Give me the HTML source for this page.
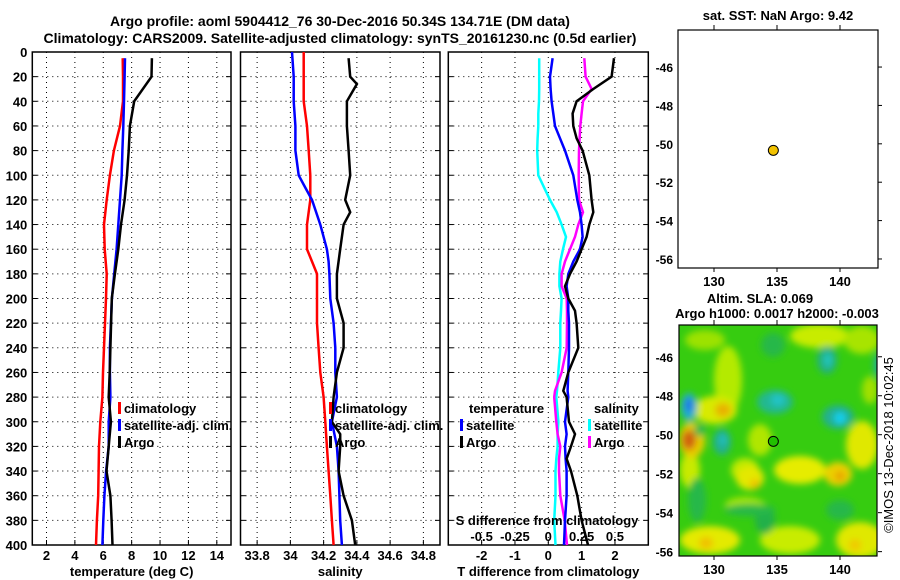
<!DOCTYPE html>
<html><head><meta charset="utf-8">
<style>
html,body{margin:0;padding:0;background:#fff;}
svg{display:block;font-family:"Liberation Sans",sans-serif;font-weight:bold;}
</style></head>
<body>
<svg id="chart" width="900" height="580" viewBox="0 0 900 580" xmlns="http://www.w3.org/2000/svg">
<defs>
<filter id="blur" x="-50%" y="-50%" width="200%" height="200%"><feGaussianBlur stdDeviation="3.5"/></filter>
<clipPath id="mapclip"><rect x="679" y="325" width="198" height="231"/></clipPath>
</defs>
<text x="340" y="26" font-size="14" text-anchor="middle">Argo profile: aoml 5904412_76 30-Dec-2016 50.34S 134.71E (DM data)</text>
<text x="340" y="43" font-size="14" text-anchor="middle">Climatology: CARS2009. Satellite-adjusted climatology: synTS_20161230.nc (0.5d earlier)</text>
<g id="layer"></g>
</svg>
<script>
// ---------- data ----------
const depthTicks = [0,20,40,60,80,100,120,140,160,180,200,220,240,260,280,300,320,340,360,380,400];
const tempTicks = [2,4,6,8,10,12,14];
const salTicks = [33.8,34,34.2,34.4,34.6,34.8];
const salTickLabels = ["33.8","34","34.2","34.4","34.6","34.8"];
const tdiffTicks = [-2,-1,0,1,2];
const sdiffTicks = [-0.5,-0.25,0,0.25,0.5];
const sdiffTickLabels = ["-0.5","-0.25","0","0.25","0.5"];

const depthStd = [5,20,40,60,80,100,120,140,160,180,200,220,240,260,280,300,320,340,360,380,400];
const tempArgo = [9.43,9.4,8.18,7.88,7.79,7.67,7.5,7.25,7.06,6.82,6.6,6.55,6.5,6.45,6.38,6.54,6.38,6.23,6.5,6.59,6.65];
const tempSat  = [7.53,7.5,7.46,7.41,7.35,7.3,7.18,7.06,6.94,6.77,6.61,6.54,6.47,6.47,6.5,6.38,6.38,6.2,6.08,6.0,5.94];
const tempClim = [7.37,7.39,7.39,7.18,6.75,6.47,6.24,6.05,6.1,6.24,6.19,6.12,6.05,5.98,5.94,5.79,5.7,5.67,5.64,5.55,5.49];

const depthSalArgo = [5,20,26,40,60,80,100,120,130,140,160,180,200,220,240,260,280,300,310,320,340,360,380,400];
const salArgo = [34.35,34.36,34.4,34.34,34.34,34.35,34.36,34.33,34.36,34.32,34.3,34.28,34.28,34.32,34.32,34.28,34.26,34.25,34.3,34.3,34.29,34.32,34.37,34.39];
const depthSal = [0,20,40,60,80,100,110,120,140,160,170,180,200,220,240,260,280,300,320,340,360,380,400];
const salSat  = [34.01,34.02,34.02,34.03,34.03,34.05,34.09,34.13,34.18,34.22,34.23,34.235,34.24,34.26,34.27,34.27,34.28,34.25,34.28,34.29,34.295,34.3,34.31];
const salClim = [34.08,34.08,34.08,34.1,34.11,34.12,34.12,34.12,34.1,34.1,34.13,34.16,34.16,34.16,34.17,34.18,34.2,34.21,34.22,34.23,34.24,34.25,34.26];

const depthDiff = [5,20,30,40,50,60,70,80,100,120,130,140,150,160,170,180,190,200,210,220,240,260,275,280,300,310,320,330,340,360,380,400];
const tdiffArgo = [1.97,1.9,1.35,0.85,0.73,0.75,0.85,1.03,1.23,1.3,1.35,1.23,1.15,1.0,0.85,0.65,0.5,0.6,0.8,0.85,0.9,0.6,0.45,0.55,0.62,0.8,0.68,0.55,0.68,0.87,1.0,1.19];
const tdiffSat  = [0.13,0.05,0.07,0.1,0.15,0.2,0.35,0.5,0.75,0.87,0.95,1.0,1.03,0.95,0.75,0.6,0.55,0.6,0.6,0.62,0.62,0.6,0.58,0.6,0.5,0.55,0.5,0.52,0.55,0.55,0.5,0.47];
const sdiffSat  = [-0.068,-0.068,-0.068,-0.07,-0.075,-0.075,-0.08,-0.083,-0.075,0.013,0.063,0.1,0.133,0.11,0.09,0.083,0.083,0.1,0.095,0.09,0.09,0.075,0.065,0.06,0.076,0.07,0.07,0.06,0.054,0.054,0.044,0.054];
const sdiffArgo = [0.27,0.28,0.325,0.26,0.25,0.24,0.235,0.23,0.228,0.23,0.26,0.225,0.2,0.163,0.125,0.1,0.1,0.138,0.14,0.14,0.138,0.1,0.05,0.044,0.06,0.07,0.09,0.08,0.08,0.09,0.123,0.14];

const mapLonTicks = [130,135,140];
const mapLatTicks = [-46,-48,-50,-52,-54,-56];
const argoLon = [134.71];
const argoLat = [-50.34];

// ---------- helpers ----------
const NS = "http://www.w3.org/2000/svg";
const layer = document.getElementById('layer');
function mk(tag, attrs, parent){ const e=document.createElementNS(NS,tag); for(const k in attrs) e.setAttribute(k,attrs[k]); (parent||layer).appendChild(e); return e; }
const PT=52, PB=545;
const yD = d => PT + d*(PB-PT)/400;
function lin(d0,d1,r0,r1){ return v => r0 + (v-d0)*(r1-r0)/(d1-d0); }

function panel(name, x0, x1, xs, ticks, labels, xtitle, showY){
  const g = mk('g',{});
  
  
  depthTicks.forEach(d=>{
    if(d>0 && d<400){ const l=mk('line',{x1:x0,x2:x1,y1:yD(d),y2:yD(d),stroke:'#000','stroke-width':1,'stroke-dasharray':'1,4'},g);
        }
    mk('line',{x1:x0,x2:x0+5,y1:yD(d),y2:yD(d),stroke:'#000'},g);
    mk('line',{x1:x1-5,x2:x1,y1:yD(d),y2:yD(d),stroke:'#000'},g);
    if(showY){ const t=mk('text',{x:x0-5,y:yD(d)+5,'font-size':13,'text-anchor':'end'},g); t.textContent=d;
        }
  });
  ticks.forEach((v,i)=>{
    const l=mk('line',{x1:xs(v),x2:xs(v),y1:PT,y2:PB,stroke:'#000','stroke-width':1,'stroke-dasharray':'1,4'},g);
     
    mk('line',{x1:xs(v),x2:xs(v),y1:PB-5,y2:PB,stroke:'#000'},g);
    const t=mk('text',{x:xs(v),y:560,'font-size':13,'text-anchor':'middle'},g); t.textContent=labels[i];
     
  });
  const r=mk('rect',{x:x0,y:PT,width:x1-x0,height:PB-PT,fill:'none',stroke:'#000','stroke-width':1.5},g);
   
  const t=mk('text',{x:(x0+x1)/2,y:576,'font-size':13,'text-anchor':'middle'},g); t.textContent=xtitle;
   
  return g;
}
function series(name, g, xs, vals, depths, color){
  const pts = vals.map((v,i)=>xs(v).toFixed(1)+','+yD(depths[i]).toFixed(1)).join(' ');
  const p = mk('polyline',{points:pts,fill:'none',stroke:color,'stroke-width':2.5},g);
  
  
}
function legend(g, x, y, color, label, name){
  const gg = mk('g',{},g);
  
  
  mk('rect',{x:x,y:y-11,width:3,height:12,fill:color},gg);
  const t=mk('text',{x:x+6,y:y,'font-size':13},gg); t.textContent=label;
}

// Panel 1: temperature
const xT = lin(1,15,32.3,231);
const g1 = panel('temperature-panel',32.3,231,xT,tempTicks,tempTicks.map(String),'temperature (deg C)',true);
series('climatology-temperature-line',g1,xT,tempClim,depthStd,'#f00');
series('satellite-temperature-line',g1,xT,tempSat,depthStd,'#00f');
series('argo-temperature-line',g1,xT,tempArgo,depthStd,'#000');
legend(g1,118,413,'#f00','climatology','legend-climatology');
legend(g1,118,430,'#00f','satellite-adj. clim.','legend-satellite');
legend(g1,118,447,'#000','Argo','legend-argo');

// Panel 2: salinity
const xS = lin(33.7,34.9,240.5,440);
const g2 = panel('salinity-panel',240.5,440,xS,salTicks,salTickLabels,'salinity',false);
series('climatology-salinity-line',g2,xS,salClim,depthSal,'#f00');
series('satellite-salinity-line',g2,xS,salSat,depthSal,'#00f');
series('argo-salinity-line',g2,xS,salArgo,depthSalArgo,'#000');
legend(g2,329,413,'#f00','climatology','legend-climatology');
legend(g2,329,430,'#00f','satellite-adj. clim.','legend-satellite');
legend(g2,329,447,'#000','Argo','legend-argo');

// Panel 3: differences
const xTD = lin(-3,3,448.3,648.3);
const xSD = lin(-0.75,0.75,448.3,648.3);
const g3 = panel('difference-panel',448.3,648.3,xTD,tdiffTicks,tdiffTicks.map(String),'T difference from climatology',false);
series('satellite-salinity-diff-line',g3,xSD,sdiffSat,depthDiff,'#0ff');
series('argo-salinity-diff-line',g3,xSD,sdiffArgo,depthDiff,'#f0f');
series('satellite-temperature-diff-line',g3,xTD,tdiffSat,depthDiff,'#00f');
series('argo-temperature-diff-line',g3,xTD,tdiffArgo,depthDiff,'#000');
{ const t=mk('text',{x:469,y:413,'font-size':13},g3); t.textContent='temperature';
   
  const s=mk('text',{x:594,y:413,'font-size':13},g3); s.textContent='salinity';
    }
legend(g3,460,430,'#00f','satellite','legend-temp-satellite');
legend(g3,460,447,'#000','Argo','legend-temp-argo');
legend(g3,588,430,'#0ff','satellite','legend-sal-satellite');
legend(g3,588,447,'#f0f','Argo','legend-sal-argo');
{ const t=mk('text',{x:547,y:525,'font-size':13,'text-anchor':'middle'},g3); t.textContent='S difference from climatology';
   
  sdiffTicks.forEach((v,i)=>{ const l=mk('text',{x:xSD(v),y:541,'font-size':13,'text-anchor':'middle'},g3); l.textContent=sdiffTickLabels[i];
      }); }

// Right panels
function mapAxes(name, top, bottom, latTop, latBot, bottomY){
  const g = mk('g',{});
  
  
  const xm = lin(130,140,714,840);
  const ym = lin(latTop,latBot,top,bottom);
  mapLonTicks.forEach(v=>{
    mk('line',{x1:xm(v),x2:xm(v),y1:top-5,y2:top,stroke:'#000'},g);
    mk('line',{x1:xm(v),x2:xm(v),y1:bottomY,y2:bottomY+4,stroke:'#000'},g);
    const t=mk('text',{x:xm(v),y:bottomY+18,'font-size':13,'text-anchor':'middle'},g); t.textContent=v;
     
  });
  mapLatTicks.forEach(v=>{
    mk('line',{x1:878,x2:882,y1:ym(v),y2:ym(v),stroke:'#000'},g);
    const t=mk('text',{x:673,y:ym(v)+5,'font-size':12,'text-anchor':'end'},g); t.textContent=v;
     
  });
  return {g,xm,ym};
}
// top: SST panel
const A = mapAxes('sst-panel',30,268,-44.07,-56.47,268);
{ const r=mk('rect',{x:678,y:30,width:200,height:238,fill:'none',stroke:'#000','stroke-width':1.2},A.g);
   
  const t=mk('text',{x:778,y:20,'font-size':13,'text-anchor':'middle'},A.g); t.textContent='sat. SST: NaN Argo: 9.42';
   
  argoLon.forEach((lo,i)=>{ const c=mk('circle',{cx:A.xm(lo),cy:A.ym(argoLat[i]),r:5,fill:'#f2c200',stroke:'#000'},A.g);
      }); }

// bottom: SLA map
const B = mapAxes('sla-panel',325,556.7,-44.37,-56.26,556);
{ const mg = mk('g',{'clip-path':'url(#mapclip)'},B.g);
   
  mk('rect',{x:679,y:325,width:198,height:231,fill:'#36cc10'},mg);
  const fg = mk('g',{filter:'url(#blur)'},mg);
  const blobs = [
    [820,336,30,12,'#c8ec00'],[862,340,18,14,'#a8e400'],[705,340,20,10,'#9ce200'],
    [728,380,14,34,'#b4ea00'],[715,410,22,14,'#d8ea00'],[723,410,8,7,'#e8b000'],
    [760,440,12,16,'#b0e600'],[745,470,14,12,'#c0ea00'],
    [800,470,26,14,'#e6ec00'],[838,474,14,12,'#ecd000'],[840,476,5,5,'#e8a000'],
    [862,445,16,24,'#e0e800'],[870,390,8,14,'#a0e000'],
    [750,478,14,12,'#e4e800'],[755,484,5,5,'#f0c000'],
    [710,540,30,14,'#e4ea00'],[706,543,7,6,'#f0c000'],[860,540,24,18,'#e0e800'],[855,545,6,6,'#f0c800'],
    [790,540,30,14,'#c8ec00'],[745,505,20,8,'#a8e600'],[690,470,10,18,'#c8ea00'],
    [692,440,13,18,'#e8cc00'],[689,440,7,10,'#d06010'],
    [689,407,8,14,'#20b0d0'],[689,405,4,7,'#2070e8'],
    [722,442,9,13,'#20b090'],[723,440,4,5,'#20c0c0'],
    [775,402,18,12,'#22b890'],[778,400,7,6,'#20c4c8'],
    [838,417,16,12,'#22b090'],[840,418,6,6,'#18d0f0'],
    [827,360,10,14,'#22b080'],[828,360,4,7,'#20c8c0'],
    [880,365,6,12,'#20b0a0'],
    [773,345,12,12,'#28b848'],[697,500,9,22,'#28b84a'],[765,520,10,14,'#24b048'],
    [750,510,26,6,'#28b84a'],[840,510,14,10,'#28b848'],[700,430,6,6,'#2eb850']
  ];
  blobs.forEach(b=>mk('ellipse',{cx:b[0],cy:b[1],rx:b[2],ry:b[3],fill:b[4]},fg));
  argoLon.forEach((lo,i)=>{ const c=mk('circle',{cx:B.xm(lo),cy:B.ym(argoLat[i]),r:5,fill:'#22c000',stroke:'#000'},B.g);
      });
  const r=mk('rect',{x:679,y:325,width:198,height:231,fill:'none',stroke:'#000','stroke-width':1.2},B.g);
   
  const t1=mk('text',{x:760,y:303,'font-size':13,'text-anchor':'middle'},B.g); t1.textContent='Altim. SLA: 0.069';
   
  const t2=mk('text',{x:777,y:318,'font-size':13,'text-anchor':'middle'},B.g); t2.textContent='Argo h1000: 0.0017 h2000: -0.003';
   
  const c=mk('text',{x:0,y:0,'font-size':13,'font-weight':'normal','text-anchor':'middle',transform:'translate(893,445) rotate(-90)'},B.g);
  c.textContent='©IMOS 13-Dec-2018 10:02:45';
    }
</script>
</body></html>
